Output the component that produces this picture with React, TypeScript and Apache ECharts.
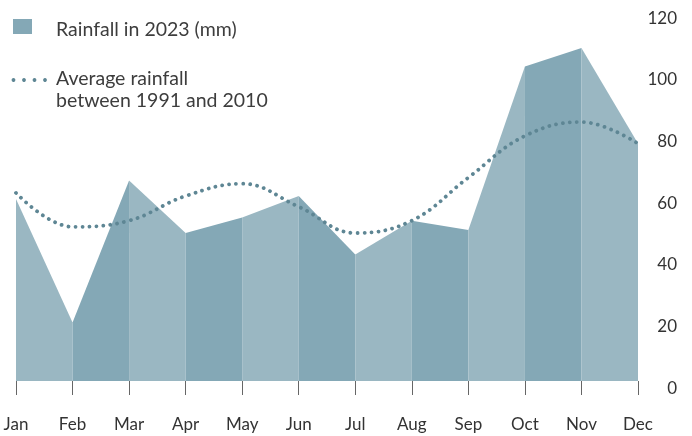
import React, { useEffect, useRef } from "react";
import * as echarts from "echarts";

const months = ["Jan", "Feb", "Mar", "Apr", "May", "Jun", "Jul", "Aug", "Sep", "Oct", "Nov", "Dec"];
const rainfall2023 = [59, 19, 65, 48, 53, 60, 41, 52, 49, 102, 108, 77];
const average19912010 = [61, 50, 52, 60, 64, 56.5, 48, 52, 66, 79.5, 84, 77];
const legendLabels = ["Rainfall in 2023 (mm)", "Average rainfall\nbetween 1991 and 2010"];

const LIGHT = "#9ab7c2";
const DARK = "#84a8b6";
const DOT = "#5e8694";
const FONT = "Lato";

export default function App() {
  const ref = useRef<HTMLDivElement>(null);
  useEffect(() => {
    if (!ref.current) return;
    const chart = echarts.init(ref.current, undefined, { renderer: "svg" });
    const segSeries: any[] = [];
    for (let i = 0; i < months.length - 1; i++) {
      const data = months.map((_, j) => (j === i || j === i + 1 ? rainfall2023[j] : null));
      const color = i % 2 === 0 ? LIGHT : DARK;
      segSeries.push({
        type: "line",
        name: "seg" + i,
        data,
        showSymbol: false,
        connectNulls: false,
        lineStyle: { width: 0, color },
        areaStyle: { color, opacity: 1 },
        itemStyle: { color },
        z: 2,
        silent: true,
      });
    }
    chart.setOption({
      animation: false,
      grid: { left: 16, right: 54, top: 11, bottom: 55, containLabel: false },
      xAxis: {
        type: "category",
        data: months,
        boundaryGap: false,
        offset: 6,
        axisLine: { show: false },
        axisTick: { show: true, length: 14, lineStyle: { color: "#666", width: 1 } },
        axisLabel: { color: "#333", fontFamily: FONT, fontSize: 17, margin: 28 },
        splitLine: { show: false },
      },
      yAxis: {
        type: "value",
        position: "right",
        min: 0,
        max: 120,
        interval: 20,
        axisLine: { show: false },
        axisTick: { show: false },
        splitLine: { show: false },
        axisLabel: {
          color: "#333",
          fontFamily: FONT,
          fontSize: 17,
          align: "right",
          margin: 39,
          verticalAlign: "top",
          lineHeight: 12,
        },
      },
      series: [
        ...segSeries,
        {
          type: "line",
          name: legendLabels[1],
          data: average19912010,
          smooth: 0.4,
          showSymbol: false,
          lineStyle: { color: DOT, width: 3.8, type: [0.01, 7], cap: "round" },
          z: 5,
          silent: true,
        },
      ],
      graphic: [
        { type: "rect", shape: { x: 13, y: 19, width: 19, height: 15 }, style: { fill: DARK } },
        {
          type: "text",
          x: 56,
          y: 28,
          style: { text: legendLabels[0], fontFamily: FONT, fontSize: 19.5, fill: "#3d3d3d", verticalAlign: "middle" },
        },
        ...[13.5, 24, 34.5, 45].map((cx) => ({
          type: "circle",
          shape: { cx, cy: 80, r: 1.9 },
          style: { fill: DOT },
        })),
        {
          type: "text",
          x: 56,
          y: 66,
          style: {
            text: legendLabels[1],
            fontFamily: FONT,
            fontSize: 19.5,
            lineHeight: 22,
            fill: "#3d3d3d",
            verticalAlign: "top",
          },
        },
      ],
    });
    return () => chart.dispose();
  }, []);
  return <div ref={ref} style={{ position: "fixed", left: 0, top: 0, width: 692, height: 436 }} />;
}
